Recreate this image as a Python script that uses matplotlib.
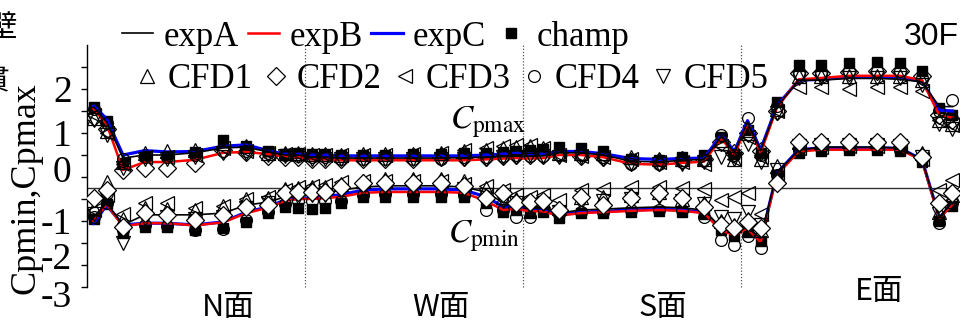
import numpy as np
import matplotlib
matplotlib.use("Agg")
import matplotlib.pyplot as plt
from matplotlib.lines import Line2D
from matplotlib.transforms import ScaledTranslation

plt.rcParams['font.family'] = ['Liberation Serif', 'DejaVu Serif']
plt.rcParams['mathtext.fontset'] = 'stix'
plt.rcParams['axes.unicode_minus'] = False

# 各面の測定点の位置 (面の幅に対する割合)
loc_in_face = [0.03, 0.09, 0.165, 0.265, 0.367, 0.495, 0.625, 0.73, 0.83, 0.91, 0.97]
faces = ['N面', 'W面', 'S面', 'E面']
x = np.concatenate([i + np.array(loc_in_face) for i in range(4)])

# Cpmax  (N, W, S, E の順)
max_expA = [1.59, 1.25, 0.43, 0.50, 0.50, 0.55, 0.66, 0.68, 0.57, 0.50, 0.50,
            0.45, 0.45, 0.43, 0.43, 0.43, 0.43, 0.43, 0.44, 0.45, 0.47, 0.48,
            0.47, 0.48, 0.55, 0.55, 0.50, 0.36, 0.34, 0.38, 0.40, 0.92, 0.55,
            1.25, 0.60, 1.60, 2.20, 2.20, 2.24, 2.24, 2.22, 2.16, 1.60, 1.60]
max_expB = [1.55, 1.20, 0.16, 0.34, 0.34, 0.39, 0.55, 0.57, 0.52, 0.47, 0.45,
            0.40, 0.40, 0.38, 0.38, 0.38, 0.38, 0.38, 0.38, 0.40, 0.42, 0.43,
            0.42, 0.43, 0.50, 0.50, 0.45, 0.30, 0.28, 0.32, 0.35, 0.88, 0.50,
            1.22, 0.55, 1.58, 2.22, 2.25, 2.30, 2.30, 2.30, 2.20, 1.40, 1.35]
max_expC = [1.62, 1.32, 0.50, 0.60, 0.57, 0.58, 0.70, 0.73, 0.60, 0.52, 0.52,
            0.50, 0.50, 0.48, 0.48, 0.48, 0.48, 0.48, 0.48, 0.50, 0.52, 0.54,
            0.52, 0.52, 0.58, 0.58, 0.53, 0.42, 0.40, 0.42, 0.43, 0.95, 0.58,
            1.28, 0.62, 1.62, 2.20, 2.22, 2.27, 2.27, 2.26, 2.18, 1.52, 1.50]
max_champ = [1.60, 1.28, 0.32, 0.48, 0.48, 0.57, 0.84, 0.70, 0.58, 0.52, 0.55,
             0.52, 0.52, 0.50, 0.50, 0.50, 0.52, 0.52, 0.55, 0.55, 0.56, 0.58,
             0.62, 0.64, 0.68, 0.66, 0.58, 0.40, 0.38, 0.45, 0.50, 0.90, 0.52,
             1.07, 0.55, 1.70, 2.55, 2.55, 2.60, 2.62, 2.60, 2.40, 1.57, 1.40]
max_cfd1 = [1.35, 1.05, 0.35, 0.55, 0.58, 0.62, 0.78, 0.70, 0.55, 0.55, 0.55,
            0.52, 0.52, 0.50, 0.52, 0.52, 0.53, 0.55, 0.58, 0.62, 0.66, 0.68,
            0.70, 0.66, 0.55, 0.55, 0.55, 0.45, 0.42, 0.42, 0.40, 0.85, 0.40,
            1.00, 0.40, 1.55, 2.30, 2.30, 2.30, 2.30, 2.30, 2.20, 1.30, 1.20]
max_cfd2 = [1.36, 1.10, 0.16, 0.20, 0.20, 0.32, 0.61, 0.57, 0.48, 0.45, 0.45,
            0.42, 0.40, 0.40, 0.42, 0.42, 0.42, 0.45, 0.45, 0.45, 0.48, 0.50,
            0.50, 0.50, 0.52, 0.48, 0.45, 0.35, 0.35, 0.38, 0.40, 0.80, 0.55,
            1.00, 0.60, 1.50, 2.36, 2.36, 2.38, 2.40, 2.40, 2.30, 1.40, 1.30]
max_cfd3 = [1.40, 1.00, 0.30, 0.45, 0.45, 0.50, 0.65, 0.60, 0.55, 0.52, 0.52,
            0.50, 0.50, 0.50, 0.50, 0.50, 0.52, 0.55, 0.62, 0.66, 0.70, 0.72,
            0.72, 0.65, 0.50, 0.48, 0.45, 0.40, 0.35, 0.35, 0.30, 0.70, 0.40,
            0.90, 0.45, 1.50, 2.05, 2.05, 2.00, 2.05, 2.05, 1.95, 1.30, 1.18]
max_cfd4 = [1.55, 1.22, 0.40, 0.45, 0.45, 0.50, 0.60, 0.60, 0.55, 0.50, 0.48,
            0.45, 0.45, 0.42, 0.40, 0.40, 0.42, 0.42, 0.45, 0.45, 0.48, 0.50,
            0.48, 0.48, 0.50, 0.50, 0.45, 0.30, 0.30, 0.35, 0.38, 0.95, 0.50,
            1.34, 0.50, 1.62, 2.35, 2.35, 2.40, 2.40, 2.40, 2.25, 1.50, 1.75]
max_cfd5 = [1.30, 0.95, 0.20, 0.40, 0.40, 0.45, 0.55, 0.55, 0.50, 0.48, 0.48,
            0.42, 0.42, 0.42, 0.40, 0.40, 0.40, 0.42, 0.42, 0.42, 0.45, 0.45,
            0.50, 0.48, 0.45, 0.45, 0.42, 0.32, 0.30, 0.30, 0.35, 0.45, 0.40,
            0.75, 0.35, 1.45, 2.25, 2.25, 2.25, 2.25, 2.25, 2.10, 1.20, 1.10]

# Cpmin
min_expA = [-0.91, -0.59, -1.09, -0.86, -0.86, -0.86, -0.82, -0.64, -0.57, -0.45, -0.41,
            -0.36, -0.36, -0.30, -0.23, -0.20, -0.20, -0.20, -0.23, -0.34, -0.59, -0.57,
            -0.70, -0.68, -0.82, -0.75, -0.73, -0.70, -0.68, -0.70, -0.75, -1.16, -1.27,
            -1.14, -1.39, 0.09, 0.61, 0.68, 0.68, 0.68, 0.66, 0.39, -0.91, -0.57]
min_expB = [-1.00, -0.62, -1.12, -1.05, -1.05, -1.10, -1.03, -0.82, -0.70, -0.54, -0.50,
            -0.50, -0.48, -0.45, -0.36, -0.34, -0.34, -0.34, -0.36, -0.55, -0.75, -0.72,
            -0.78, -0.78, -0.88, -0.82, -0.80, -0.77, -0.75, -0.77, -0.82, -1.22, -1.32,
            -1.18, -1.48, 0.05, 0.58, 0.62, 0.62, 0.62, 0.62, 0.38, -0.95, -0.62]
min_expC = [-1.05, -0.64, -1.09, -1.05, -1.05, -1.09, -1.02, -0.80, -0.68, -0.52, -0.48,
            -0.48, -0.45, -0.40, -0.30, -0.27, -0.27, -0.27, -0.30, -0.45, -0.68, -0.66,
            -0.73, -0.75, -0.86, -0.80, -0.78, -0.75, -0.73, -0.75, -0.80, -1.20, -1.30,
            -1.16, -1.45, 0.09, 0.62, 0.66, 0.66, 0.66, 0.65, 0.40, -0.93, -0.60]
min_champ = [-0.95, -0.62, -1.27, -1.14, -1.14, -1.20, -1.16, -1.02, -0.82, -0.68, -0.70,
             -0.73, -0.70, -0.59, -0.45, -0.45, -0.45, -0.45, -0.45, -0.60, -0.80, -0.75,
             -0.82, -0.80, -0.93, -0.82, -0.82, -0.80, -0.78, -0.80, -0.85, -1.20, -1.35,
             -1.25, -1.45, 0.05, 0.55, 0.60, 0.62, 0.62, 0.60, 0.35, -1.00, -0.65]
min_cfd1 = [-0.70, -0.12, -0.95, -0.70, -0.72, -0.75, -0.65, -0.50, -0.48, -0.28, -0.25,
            -0.22, -0.22, -0.15, -0.08, -0.05, -0.05, -0.05, -0.10, -0.25, -0.45, -0.50,
            -0.55, -0.55, -0.70, -0.45, -0.45, -0.40, -0.35, -0.50, -0.60, -1.00, -1.10,
            -0.95, -1.20, 0.25, 0.80, 0.80, 0.82, 0.82, 0.80, 0.55, -0.80, -0.40]
min_cfd2 = [-0.48, -0.30, -1.14, -0.82, -0.86, -0.98, -0.86, -0.68, -0.64, -0.36, -0.34,
            -0.34, -0.34, -0.23, -0.14, -0.14, -0.14, -0.14, -0.20, -0.48, -0.36, -0.59,
            -0.57, -0.55, -0.75, -0.45, -0.64, -0.48, -0.36, -0.48, -0.68, -1.10, -1.16,
            -1.02, -1.16, -0.14, 0.80, 0.80, 0.80, 0.80, 0.80, 0.45, -0.59, -0.36]
min_cfd3 = [-0.75, -0.40, -0.85, -0.60, -0.60, -0.70, -0.65, -0.50, -0.45, -0.30, -0.22,
            -0.20, -0.18, -0.12, -0.08, -0.08, -0.08, -0.10, -0.15, -0.20, -0.30, -0.40,
            -0.45, -0.40, -0.52, -0.30, -0.28, -0.23, -0.23, -0.25, -0.27, -0.52, -0.45,
            -0.36, -0.85, 0.10, 0.65, 0.68, 0.70, 0.70, 0.70, 0.40, -0.30, -0.07]
min_cfd4 = [-0.90, -0.60, -1.20, -1.10, -1.12, -1.20, -1.18, -0.98, -0.80, -0.62, -0.55,
            -0.55, -0.55, -0.55, -0.40, -0.38, -0.38, -0.38, -0.40, -0.75, -0.75, -0.90,
            -0.90, -0.70, -0.85, -0.80, -0.80, -0.76, -0.74, -0.75, -0.90, -1.43, -1.55,
            -1.35, -1.61, 0.05, 0.62, 0.65, 0.65, 0.65, 0.62, 0.40, -1.05, -0.60]
min_cfd5 = [-0.85, -0.50, -1.50, -0.95, -0.90, -0.95, -0.90, -0.70, -0.60, -0.45, -0.45,
            -0.40, -0.40, -0.35, -0.28, -0.25, -0.25, -0.25, -0.28, -0.40, -0.55, -0.60,
            -0.65, -0.62, -0.80, -0.60, -0.55, -0.50, -0.45, -0.55, -0.62, -0.90, -0.95,
            -0.80, -1.10, 0.15, 0.70, 0.72, 0.72, 0.72, 0.70, 0.45, -0.85, -0.45]

fig = plt.figure(figsize=(9.61, 3.21), dpi=100)
ax = fig.add_axes([87 / 961, 12 / 321, 872 / 961, 264 / 321])

# マーカーのスタイル
champ_kw = dict(ls='none', marker='s', ms=7, mfc='black', mec='black', zorder=2)
cfd_kw = {
    'CFD1': dict(marker='^', ms=10, mfc='none'),
    'CFD3': dict(marker='<', ms=10, mfc='none'),
    'CFD4': dict(marker='o', ms=8.5, mfc='none'),
    'CFD5': dict(marker='v', ms=10, mfc='none'),
    'CFD2': dict(marker='D', ms=9.5, mfc='white'),
}

cfd_max = {'CFD1': max_cfd1, 'CFD2': max_cfd2, 'CFD3': max_cfd3, 'CFD4': max_cfd4, 'CFD5': max_cfd5}
cfd_min = {'CFD1': min_cfd1, 'CFD2': min_cfd2, 'CFD3': min_cfd3, 'CFD4': min_cfd4, 'CFD5': min_cfd5}

# Cpmax 側は菱形が下、Cpmin 側は菱形が上に描かれている
ax.plot(x, max_cfd2, ls='none', mec='black', mew=0.9, zorder=1.5, **cfd_kw['CFD2'])
for ys_champ in (max_champ, min_champ):
    ax.plot(x, ys_champ, **champ_kw)

# 実験値の線
for ys, c, lw in ((max_expC, 'blue', 2.3), (max_expB, 'red', 1.8), (max_expA, 'black', 1.2),
                  (min_expC, 'blue', 2.3), (min_expB, 'red', 1.8), (min_expA, 'black', 1.2)):
    ax.plot(x, ys, color=c, lw=lw, zorder=3)

for name in ['CFD1', 'CFD3', 'CFD4', 'CFD5']:
    for d in (cfd_max, cfd_min):
        ax.plot(x, d[name], ls='none', mec='black', mew=0.9, zorder=4, **cfd_kw[name])
ax.plot(x, min_cfd2, ls='none', mec='black', mew=0.9, zorder=5, **cfd_kw['CFD2'])

# 補助線
ax.axhline(-0.25, color='#333333', lw=1.0, zorder=1)
for b in (1, 2, 3):
    ax.axvline(b, ymin=0.0833, ymax=1.0, color='#555555', lw=0.9, ls=(0, (1, 1.5)), zorder=1)

ax.set_xlim(0, 4)
ax.set_ylim(-3, 3)
for s in ['top', 'right', 'bottom']:
    ax.spines[s].set_visible(False)
ax.spines['left'].set_bounds(-2.5, 3)
ax.spines['left'].set_linewidth(1.0)
ax.set_xticks([])
ax.set_yticks([-3, -2, -1, 0, 1, 2])
ax.set_yticklabels(['-3', '-2', '-1', '0', '1', '2'])
ax.set_yticks([-2.5, -1.5, -0.5, 0.5, 1.5, 2.5], minor=True)
ax.tick_params(axis='y', which='both', direction='out', length=4, width=1.0, pad=7, labelsize=27)
ax.yaxis.get_major_ticks()[0].tick1line.set_visible(False)
# 目盛ラベルの位置ずれ (元の図に合わせる)
label_shift = {'-3': 15, '-2': 9, '0': 8}
for lab in ax.get_yticklabels():
    dy = label_shift.get(lab.get_text(), 0)
    if dy:
        lab.set_transform(lab.get_transform() + ScaledTranslation(0, dy / 100, fig.dpi_scale_trans))

fig.text(26 / 961, 1 - 188 / 321, 'Cpmin,Cpmax', rotation=90, ha='center', va='center', fontsize=26)

# 左端で切れている縦書きの文字
jp = ['Noto Sans CJK JP', 'DejaVu Sans']
fig.text(-14 / 961, 1 - 28 / 321, '壁', family=jp, fontsize=22, ha='left', va='center')
fig.text(-18 / 961, 1 - 80 / 321, '貫', family=jp, fontsize=20, ha='left', va='center')

# C_pmax, C_pmin の注記
ax.text(1.665, 1.11, r'$C_{\rm pmax}$', fontsize=24, ha='left', va='baseline')
ax.text(1.657, -1.48, r'$C_{\rm pmin}$', fontsize=24, ha='left', va='baseline')

# 面の名前
face_xy = [(228, 307), (441, 307), (663, 307), (879, 291)]
for name, (px, py) in zip(faces, face_xy):
    fig.text(px / 961, 1 - py / 321, name, family=jp, fontsize=22, ha='center', va='center')
fig.text(959 / 961, 1 - 37 / 321, '30F', family=['Liberation Sans'], fontsize=23, ha='right', va='center')

# 凡例
h1 = [Line2D([], [], color='black', lw=1.2),
      Line2D([], [], color='red', lw=1.8),
      Line2D([], [], color='blue', lw=2.3),
      Line2D([], [], **champ_kw)]
leg1 = fig.legend(h1, ['expA', 'expB', 'expC', 'champ'], loc='center left',
                  bbox_to_anchor=(122 / 961, 1 - 37 / 321), ncol=4, frameon=False,
                  fontsize=25, handlelength=0.9, handletextpad=0.3, columnspacing=0.25,
                  borderpad=0, borderaxespad=0)
h2 = [Line2D([], [], ls='none', mec='black', mew=0.9, **cfd_kw[n]) for n in ['CFD1', 'CFD2', 'CFD3', 'CFD4', 'CFD5']]
leg2 = fig.legend(h2, ['CFD1', 'CFD2', 'CFD3', 'CFD4', 'CFD5'], loc='center left',
                  bbox_to_anchor=(138 / 961, 1 - 80 / 321), ncol=5, frameon=False,
                  fontsize=25, handlelength=0.5, handletextpad=0.35, columnspacing=0.42,
                  borderpad=0, borderaxespad=0)

fig.savefig('out.png', dpi=100)
